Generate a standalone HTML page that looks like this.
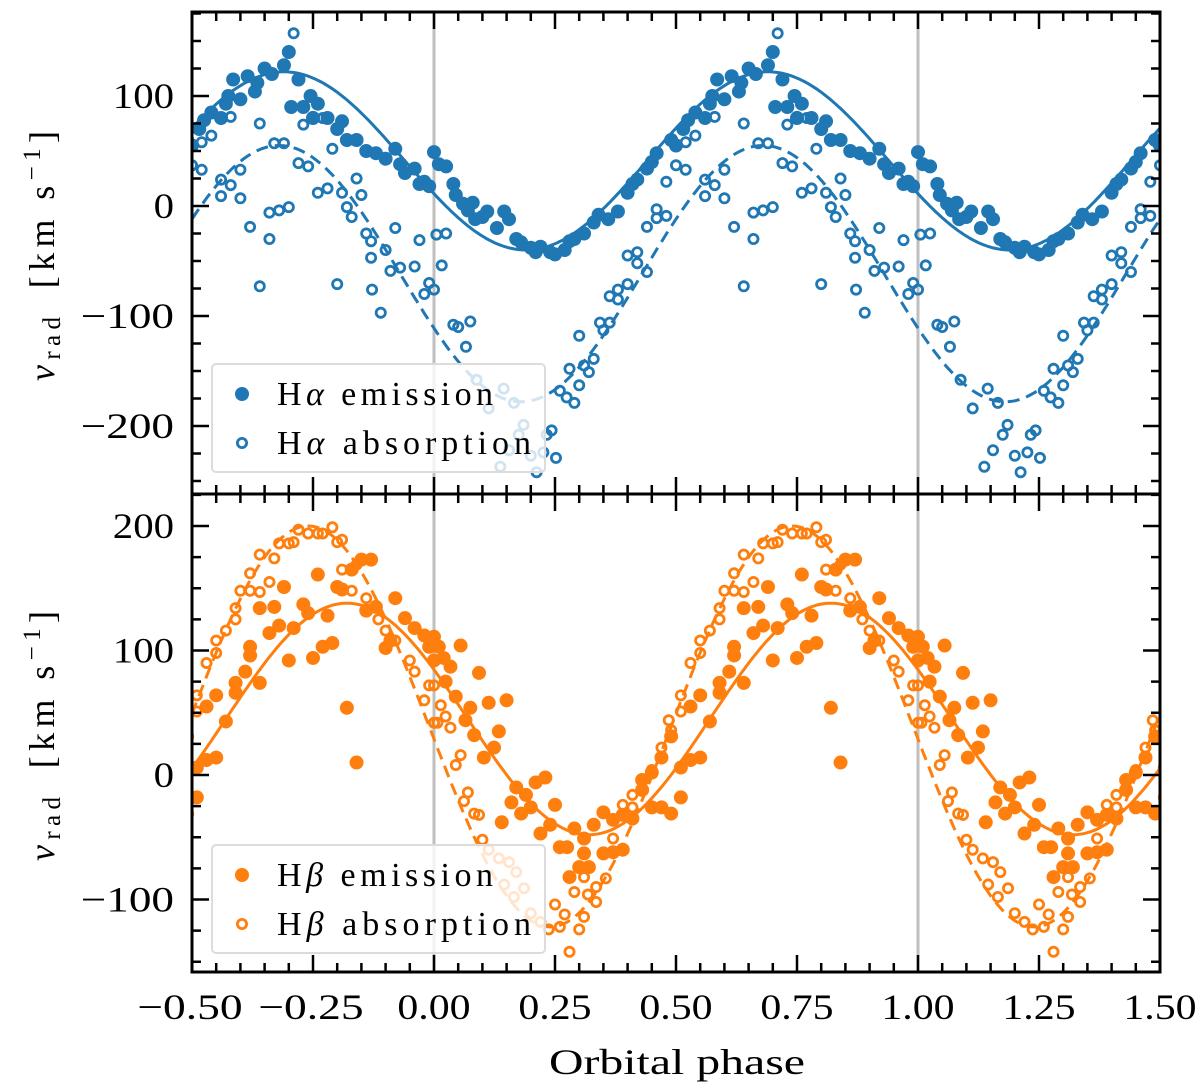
<!DOCTYPE html>
<html><head><meta charset="utf-8">
<style>
html,body{margin:0;padding:0;background:#fff;}
svg{display:block;}
text{font-family:"Liberation Serif",serif;fill:#000;}
</style></head>
<body>
<svg id="chart" width="1200" height="1092" viewBox="0 0 1200 1092" xmlns="http://www.w3.org/2000/svg"></svg>
<script>
// ---- Data (phase folded, 0..1) ----
const haEmPhase=[0.00,0.01,0.025,0.04,0.045,0.06,0.07,0.08,0.085,0.1,0.11,0.13,0.145,0.155,0.17,0.18,0.2,0.21,0.22,0.24,0.25,0.27,0.28,0.29,0.31,0.33,0.34,0.36,0.38,0.4,0.41,0.42,0.44,0.45,0.46,0.49,0.5,0.515,0.525,0.54,0.56,0.57,0.575,0.585,0.6,0.615,0.63,0.635,0.65,0.665,0.69,0.7,0.705,0.72,0.73,0.745,0.75,0.76,0.78,0.8,0.81,0.82,0.84,0.86,0.88,0.9,0.92,0.93,0.94,0.96,0.97,0.98,0.99];
const haEmVel=[49,38,36,20,10,2,-4,3,-12,-10,-5,-20,-5,-12,-30,-33,-38,-42,-37,-42,-44,-40,-32,-30,-25,-15,-8,-12,-5,12,20,24,34,40,48,60,55,70,78,85,80,93,100,115,97,118,104,112,125,120,128,140,90,115,90,100,80,93,80,70,77,60,60,50,48,43,52,38,30,34,20,22,18];
const haAbPhase=[0.005,0.025,0.016,0.0,0.04,0.05,0.075,0.066,0.088,0.144,0.113,0.165,0.185,0.175,0.155,0.137,0.2,0.226,0.212,0.233,0.243,0.252,0.26,0.274,0.29,0.28,0.3,0.31,0.32,0.33,0.3,0.343,0.35,0.363,0.363,0.38,0.4,0.38,0.4,0.42,0.42,0.44,0.44,0.46,0.46,0.48,0.48,0.5,0.52,0.52,0.54,0.56,0.56,0.58,0.6,0.6,0.58,0.62,0.64,0.64,0.66,0.66,0.68,0.7,0.67,0.69,0.71,0.72,0.74,0.73,0.75,0.77,0.76,0.78,0.79,0.8,0.81,0.82,0.83,0.84,0.85,0.86,0.87,0.87,0.9,0.89,0.91,0.92,0.93,0.96,0.97,0.98,0.99,0.872];
const haAbVel=[-26,-25,-54,-76,-108,-110,-105,-128,-158,-166,-184,-179,-199,-208,-222,-237,-227,-224,-242,-208,-204,-229,-168,-174,-179,-148,-163,-145,-151,-139,-118,-106,-113,-106,-82,-76,-71,-85,-45,-42,-52,-60,-19,-3,-11,-9,22,37,33,58,64,24,9,19,7,33,81,-19,75,-73,-30,-6,-4,-1,57,57,157,39,36,74,81,80,12,16,52,-71,12,-1,-10,25,10,-25,-32,-47,-40,-97,-59,-20,-56,-55,-31,-80,-70,-76];
const hbEmPhase=[0,0.01,0.02,0.034,0.055,0.024,0.045,0.075,0.065,0.093,0.113,0.15,0.134,0.083,0.124,0.103,0.17,0.16,0.19,0.18,0.14,0.21,0.23,0.2,0.25,0.22,0.24,0.26,0.275,0.29,0.31,0.33,0.35,0.31,0.3,0.32,0.28,0.35,0.37,0.39,0.37,0.39,0.41,0.43,0.45,0.43,0.45,0.47,0.49,0.51,0.51,0.53,0.55,0.47,0.49,0.53,0.55,0.57,0.59,0.59,0.61,0.64,0.62,0.62,0.66,0.68,0.67,0.64,0.69,0.7,0.71,0.73,0.74,0.75,0.76,0.77,0.79,0.78,0.8,0.81,0.82,0.84,0.85,0.87,0.83,0.86,0.88,0.92,0.9,0.91,0.94,0.96,0.98,0.99,1.0];
const hbEmVel=[111,103,94,87,104,75,63,54,44,82,58,60,35,32,22,14,-10,-22,-16,-31,-38,-6,-2,-26,-24,-47,-40,-58,-58,-43,-51,-40,-30,-63,-74,-74,-82,-63,-62,-60,-36,-32,-35,-4,2,-12,-26,-26,-31,-18,6,12,14,14,31,55,64,43,66,74,83,74,103,96,114,120,135,134,151,92,118,137,130,94,161,103,106,128,151,149,54,10,173,173,165,132,135,142,102,108,126,118,112,103,92];
const hbAbPhase=[0,0.014,0.024,0.007,0.034,0.055,0.045,0.07,0.062,0.083,0.093,0.1,0.113,0.134,0.155,0.17,0.145,0.186,0.165,0.2,0.22,0.237,0.25,0.27,0.26,0.28,0.3,0.31,0.29,0.318,0.335,0.335,0.355,0.31,0.37,0.39,0.41,0.41,0.43,0.45,0.47,0.49,0.485,0.51,0.51,0.53,0.55,0.55,0.57,0.59,0.59,0.6,0.62,0.64,0.62,0.64,0.66,0.67,0.68,0.7,0.71,0.72,0.74,0.76,0.77,0.79,0.8,0.81,0.81,0.83,0.84,0.86,0.885,0.9,0.92,0.95,0.96,0.99,0.98,1.0];
const hbAbVel=[72,56,47,42,38,16,8,-14,-21,-31,-32,-52,-60,-67,-70,-78,-88,-91,-98,-111,-118,-124,-104,-112,-122,-142,-124,-114,-94,-96,-102,-90,-83,-82,-51,-24,-16,-26,-4,4,22,36,44,51,64,90,98,108,116,125,134,148,148,147,162,177,155,174,186,186,187,197,194,194,194,199,187,189,165,148,169,142,125,116,108,92,83,72,60,42];
// fit parameters: [mean, amplitude, phase of maximum]
const haEmFit=[41,81,0.69];
const haAbFit=[-61.5,116.5,0.68];
const hbEmFit=[45,93,0.82];
const hbAbFit=[39,161,0.74];
const xTicks=[-0.5,-0.25,0,0.25,0.5,0.75,1.0,1.25,1.5];
const xTickLabels=["\u22120.50","\u22120.25","0.00","0.25","0.50","0.75","1.00","1.25","1.50"];
const topYTicks=[-200,-100,0,100];
const botYTicks=[-100,0,100,200];

const NS="http://www.w3.org/2000/svg";
const svg=document.getElementById('chart');
function mk(tag,attrs,parent){const e=document.createElementNS(NS,tag);for(const k in attrs)e.setAttribute(k,attrs[k]);(parent||svg).appendChild(e);return e;}
function numW(s){let w=0;for(const c of s){w+=c==='\u2212'?32:(c==='.'?12:20.4);}return w;}
const X0=192,X1=1160;
const xs=p=>X0+(p+0.5)*(X1-X0)/2;
const panels=[
 {name:'top',y0:12,y1:494,ys:v=>206-v*1.1,vmin:-262,vmax:176,ticks:topYTicks,color:'#1f77b4',em:[haEmPhase,haEmVel,haEmFit],ab:[haAbPhase,haAbVel,haAbFit],lab:['H','\u03b1'],ly:364},
 {name:'bottom',y0:494,y1:972,ys:v=>775-v*1.245,vmin:-158,vmax:226,ticks:botYTicks,color:'#ff7f0e',em:[hbEmPhase,hbEmVel,hbEmFit],ab:[hbAbPhase,hbAbVel,hbAbFit],lab:['H','\u03b2'],ly:845}
];
panels.forEach((P,pi)=>{
 const g=mk('g',{});
 
 
 const cp=mk('clipPath',{id:'clip'+pi},g);
 mk('rect',{x:X0,y:P.y0,width:X1-X0,height:P.y1-P.y0},cp);
 const plot=mk('g',{'clip-path':'url(#clip'+pi+')'},g);
 [0,1].forEach(p=>{const l=mk('line',{x1:xs(p),x2:xs(p),y1:P.y0,y2:P.y1,stroke:'#bfbfbf','stroke-width':3},plot);
  
  });
 function fitPath(f,dash,nm){
  let d='';for(let i=0;i<=400;i++){const p=-0.5+2*i/400;const v=f[0]+f[1]*Math.cos(2*Math.PI*(p-f[2]));d+=(i?'L':'M')+xs(p).toFixed(1)+','+P.ys(v).toFixed(1);}
  const e=mk('path',{d:d,fill:'none',stroke:P.color,'stroke-width':3,'stroke-dasharray':dash||'none'},plot);
  
  
 }
 fitPath(P.em[2],null,P.name+'-emission-fit');
 fitPath(P.ab[2],'12,7',P.name+'-absorption-fit');
 function pts(arr,filled,nm){
  const gg=mk('g',{},plot);
  
  
  arr[0].forEach((ph,i)=>{[-1,0,1].forEach(s=>{const p=ph+s;if(p<-0.52||p>1.52)return;
   const c=filled?mk('circle',{cx:xs(p),cy:P.ys(arr[1][i]),r:7,fill:P.color},gg):mk('circle',{cx:xs(p),cy:P.ys(arr[1][i]),r:4.6,fill:'none',stroke:P.color,'stroke-width':2.8},gg);
   
   });});
 }
 pts(P.em,true,P.name+'-emission-points');
 pts(P.ab,false,P.name+'-absorption-points');
 // legend
 const ly=P.ly;
 const lg=mk('g',{},g);
 
 
 mk('rect',{x:212,y:ly,width:333,height:108,rx:4,fill:'rgba(255,255,255,0.8)',stroke:'#dcdcdc','stroke-width':2},lg);
 [['emission',true,216],['absorption',false,254]].forEach((e,k)=>{
  const yy=ly+30+k*49;
  const m=e[1]?mk('circle',{cx:242,cy:yy,r:7,fill:P.color},lg):mk('circle',{cx:242,cy:yy,r:4.6,fill:'none',stroke:P.color,'stroke-width':2.8},lg);
  
  
  const t=mk('text',{x:277,y:yy+11,'font-size':34,textLength:e[2],lengthAdjust:'spacing'},lg);
  
  
  t.appendChild(document.createTextNode(P.lab[0]));
  const ts=mk('tspan',{'font-style':'italic'},t);ts.textContent=P.lab[1];
  t.appendChild(document.createTextNode(' '+e[0]));
 });
 // ticks
 const tk=mk('g',{stroke:'#000','stroke-width':2.5},g);
 
 
 for(let i=0;i<=40;i++){const p=-0.5+i*0.05;const x=xs(p);const L=(i%5===0)?17:9;
  mk('line',{x1:x,x2:x,y1:P.y1,y2:P.y1-L},tk);mk('line',{x1:x,x2:x,y1:P.y0,y2:P.y0+L},tk);}
 for(let v=-300;v<=300;v+=25){if(v<P.vmin||v>P.vmax)continue;const y=P.ys(v);const L=(v%100===0)?17:9;
  mk('line',{x1:X0,x2:X0+L,y1:y,y2:y},tk);mk('line',{x1:X1,x2:X1-L,y1:y,y2:y},tk);}
 P.ticks.forEach(v=>{const s=(v<0?'\u2212'+(-v):String(v));
  const t=mk('text',{x:174-numW(s),y:P.ys(v)+12,'font-size':36,textLength:numW(s),lengthAdjust:'spacingAndGlyphs'},g);
  
  
  t.textContent=s;});
 const fr=mk('rect',{x:X0,y:P.y0,width:X1-X0,height:P.y1-P.y0,fill:'none',stroke:'#000','stroke-width':3},g);
 
 
 const cy=(P.y0+P.y1)/2+3;
 const yl=mk('text',{transform:'translate(54,'+cy+') rotate(-90)','font-size':36,'text-anchor':'middle',textLength:250,lengthAdjust:'spacing'},g);
 
 
 const v1=mk('tspan',{'font-style':'italic'},yl);v1.textContent='v';
 const v2=mk('tspan',{'font-size':25,dy:6},yl);v2.textContent='rad';
 const v3=mk('tspan',{dy:-6},yl);v3.textContent='\u2002[km s';
 const v4=mk('tspan',{'font-size':25,dy:-14},yl);v4.textContent='\u22121';
 const v5=mk('tspan',{dy:14},yl);v5.textContent=']';
});
xTicks.forEach((p,i)=>{const s=xTickLabels[i];const w=numW(s);
 const t=mk('text',{x:xs(p)-w/2-(s[0]==='\u2212'?2:0),y:1019,'font-size':36,textLength:w,lengthAdjust:'spacingAndGlyphs'});
 
 
 t.textContent=s;});
const xl=mk('text',{x:549,y:1074,'font-size':36,textLength:256,lengthAdjust:'spacingAndGlyphs'});


xl.textContent='Orbital phase';
</script>
</body></html>
